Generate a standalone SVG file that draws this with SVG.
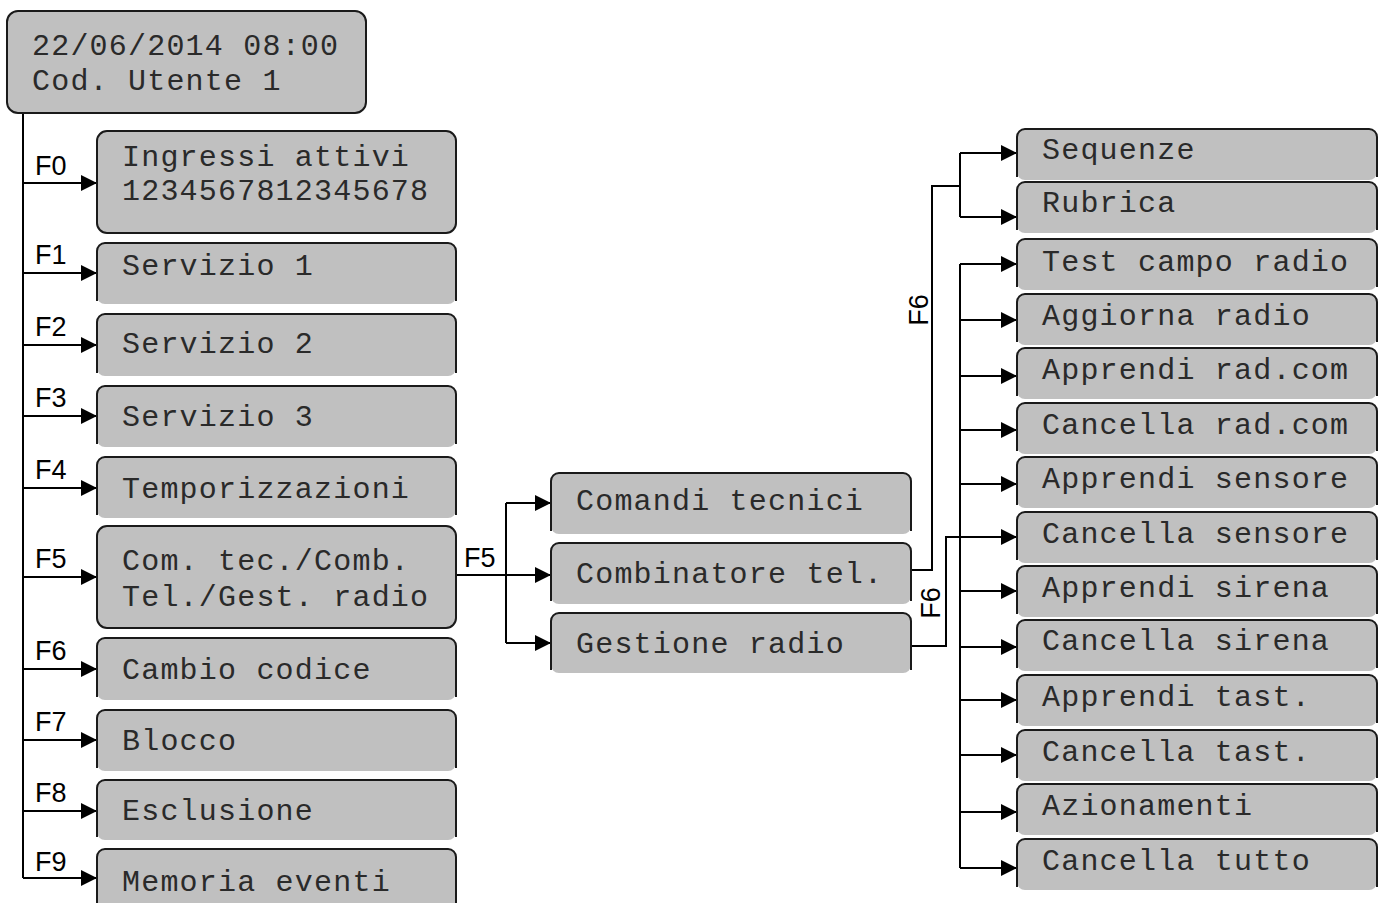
<svg xmlns="http://www.w3.org/2000/svg" width="1382" height="903" viewBox="0 0 1382 903">
<style>
.fill{fill:#c0c0c0;stroke:none}
.bd{fill:none;stroke:#1a1a1a;stroke-width:2}
.full{fill:#c0c0c0;stroke:#1a1a1a;stroke-width:2}
.t{font-family:"Liberation Mono",monospace;font-size:30px;letter-spacing:1.2px;fill:#2a2a2a}
.f{font-family:"Liberation Sans",Arial,sans-serif;font-size:27px;fill:#000}
.ln{fill:none;stroke:#000;stroke-width:2}
.ar{fill:none;stroke:#000;stroke-width:2;marker-end:url(#ah)}
</style>
<defs>
<marker id="ah" markerUnits="userSpaceOnUse" viewBox="0 0 16 16" refX="16" refY="8" markerWidth="16" markerHeight="16" orient="auto">
<path d="M0,0 L16,8 L0,16 z" fill="#000"/>
</marker>
</defs>
<rect width="1382" height="903" fill="#fff"/>

<g id="connectors">
<path class="ln" d="M23,113 V878"/>
<path class="ar" d="M23,183 H97"/>
<path class="ar" d="M23,273 H97"/>
<path class="ar" d="M23,345 H97"/>
<path class="ar" d="M23,416 H97"/>
<path class="ar" d="M23,488 H97"/>
<path class="ar" d="M23,577 H97"/>
<path class="ar" d="M23,669 H97"/>
<path class="ar" d="M23,740 H97"/>
<path class="ar" d="M23,811 H97"/>
<path class="ar" d="M23,878 H97"/>
<path class="ln" d="M456,575 H506 M506,503 V643"/>
<path class="ar" d="M506,503 H551"/>
<path class="ar" d="M506,575 H551"/>
<path class="ar" d="M506,643 H551"/>
<path class="ln" d="M911,570 H932 V186 H960 M960,153 V217"/>
<path class="ar" d="M960,153 H1017"/>
<path class="ar" d="M960,217 H1017"/>
<path class="ar" d="M911,646 H946 V537 H1017"/>
<path class="ln" d="M960,264 V868"/>
<path class="ar" d="M960,264 H1017"/>
<path class="ar" d="M960,320 H1017"/>
<path class="ar" d="M960,376 H1017"/>
<path class="ar" d="M960,430 H1017"/>
<path class="ar" d="M960,484 H1017"/>
<path class="ar" d="M960,591 H1017"/>
<path class="ar" d="M960,647 H1017"/>
<path class="ar" d="M960,700 H1017"/>
<path class="ar" d="M960,755 H1017"/>
<path class="ar" d="M960,812 H1017"/>
<path class="ar" d="M960,868 H1017"/>
<text class="f" x="35" y="175">F0</text>
<text class="f" x="35" y="264">F1</text>
<text class="f" x="35" y="336">F2</text>
<text class="f" x="35" y="407">F3</text>
<text class="f" x="35" y="479">F4</text>
<text class="f" x="35" y="568">F5</text>
<text class="f" x="35" y="660">F6</text>
<text class="f" x="35" y="731">F7</text>
<text class="f" x="35" y="802">F8</text>
<text class="f" x="35" y="871">F9</text>
<text class="f" x="464" y="567">F5</text>
<text class="f" text-anchor="middle" transform="translate(928,310) rotate(-90)">F6</text>
<text class="f" text-anchor="middle" transform="translate(940,603) rotate(-90)">F6</text>
</g>

<g id="n-top"><rect class="full" x="7" y="11" width="359" height="102" rx="11"/>
<text class="t" x="32" y="55">22/06/2014 08:00</text><text class="t" x="32" y="90">Cod. Utente 1</text></g>
<g id="n-ingressi"><rect class="full" x="97" y="131" width="359" height="102" rx="10"/>
<text class="t" x="122" y="166">Ingressi attivi</text><text class="t" x="122" y="200">1234567812345678</text></g>
<g id="n-serv1"><rect class="fill" x="97" y="243" width="359" height="61" rx="8"/><path class="bd" d="M97,301 V251 A8,8 0 0 1 105,243 H448 A8,8 0 0 1 456,251 V301"/>
<text class="t" x="122" y="275">Servizio 1</text></g>
<g id="n-serv2"><rect class="fill" x="97" y="314" width="359" height="62" rx="8"/><path class="bd" d="M97,373 V322 A8,8 0 0 1 105,314 H448 A8,8 0 0 1 456,322 V373"/>
<text class="t" x="122" y="353">Servizio 2</text></g>
<g id="n-serv3"><rect class="fill" x="97" y="386" width="359" height="61" rx="8"/><path class="bd" d="M97,444 V394 A8,8 0 0 1 105,386 H448 A8,8 0 0 1 456,394 V444"/>
<text class="t" x="122" y="426">Servizio 3</text></g>
<g id="n-temp"><rect class="fill" x="97" y="457" width="359" height="61" rx="8"/><path class="bd" d="M97,515 V465 A8,8 0 0 1 105,457 H448 A8,8 0 0 1 456,465 V515"/>
<text class="t" x="122" y="498">Temporizzazioni</text></g>
<g id="n-comtec"><rect class="full" x="97" y="526" width="359" height="102" rx="10"/>
<text class="t" x="122" y="570">Com. tec./Comb.</text><text class="t" x="122" y="606">Tel./Gest. radio</text></g>
<g id="n-cambio"><rect class="fill" x="97" y="638" width="359" height="62" rx="8"/><path class="bd" d="M97,697 V646 A8,8 0 0 1 105,638 H448 A8,8 0 0 1 456,646 V697"/>
<text class="t" x="122" y="679">Cambio codice</text></g>
<g id="n-blocco"><rect class="fill" x="97" y="710" width="359" height="61" rx="8"/><path class="bd" d="M97,768 V718 A8,8 0 0 1 105,710 H448 A8,8 0 0 1 456,718 V768"/>
<text class="t" x="122" y="750">Blocco</text></g>
<g id="n-escl"><rect class="fill" x="97" y="780" width="359" height="60" rx="8"/><path class="bd" d="M97,837 V788 A8,8 0 0 1 105,780 H448 A8,8 0 0 1 456,788 V837"/>
<text class="t" x="122" y="820">Esclusione</text></g>
<g id="n-memoria"><rect class="fill" x="97" y="849" width="359" height="70" rx="8"/><path class="bd" d="M97,910 V857 A8,8 0 0 1 105,849 H448 A8,8 0 0 1 456,857 V910"/>
<text class="t" x="122" y="891">Memoria eventi</text></g>

<g id="n-comandi"><rect class="fill" x="551" y="473" width="360" height="61" rx="8"/><path class="bd" d="M551,531 V481 A8,8 0 0 1 559,473 H903 A8,8 0 0 1 911,481 V531"/>
<text class="t" x="576" y="510">Comandi tecnici</text></g>
<g id="n-combinatore"><rect class="fill" x="551" y="543" width="360" height="61" rx="8"/><path class="bd" d="M551,601 V551 A8,8 0 0 1 559,543 H903 A8,8 0 0 1 911,551 V601"/>
<text class="t" x="576" y="583">Combinatore tel.</text></g>
<g id="n-gestione"><rect class="fill" x="551" y="613" width="360" height="60" rx="8"/><path class="bd" d="M551,670 V621 A8,8 0 0 1 559,613 H903 A8,8 0 0 1 911,621 V670"/>
<text class="t" x="576" y="653">Gestione radio</text></g>

<g id="n-sequenze"><rect class="fill" x="1017" y="129" width="360" height="51" rx="8"/><path class="bd" d="M1017,177 V137 A8,8 0 0 1 1025,129 H1369 A8,8 0 0 1 1377,137 V177"/>
<text class="t" x="1042" y="159">Sequenze</text></g>
<g id="n-rubrica"><rect class="fill" x="1017" y="182" width="360" height="51" rx="8"/><path class="bd" d="M1017,230 V190 A8,8 0 0 1 1025,182 H1369 A8,8 0 0 1 1377,190 V230"/>
<text class="t" x="1042" y="212">Rubrica</text></g>
<g id="n-test"><rect class="fill" x="1017" y="239" width="360" height="51" rx="8"/><path class="bd" d="M1017,287 V247 A8,8 0 0 1 1025,239 H1369 A8,8 0 0 1 1377,247 V287"/>
<text class="t" x="1042" y="271">Test campo radio</text></g>
<g id="n-aggiorna"><rect class="fill" x="1017" y="294" width="360" height="51" rx="8"/><path class="bd" d="M1017,342 V302 A8,8 0 0 1 1025,294 H1369 A8,8 0 0 1 1377,302 V342"/>
<text class="t" x="1042" y="325">Aggiorna radio</text></g>
<g id="n-appradcom"><rect class="fill" x="1017" y="348" width="360" height="51" rx="8"/><path class="bd" d="M1017,396 V356 A8,8 0 0 1 1025,348 H1369 A8,8 0 0 1 1377,356 V396"/>
<text class="t" x="1042" y="379">Apprendi rad.com</text></g>
<g id="n-canradcom"><rect class="fill" x="1017" y="403" width="360" height="51" rx="8"/><path class="bd" d="M1017,451 V411 A8,8 0 0 1 1025,403 H1369 A8,8 0 0 1 1377,411 V451"/>
<text class="t" x="1042" y="434">Cancella rad.com</text></g>
<g id="n-appsens"><rect class="fill" x="1017" y="457" width="360" height="51" rx="8"/><path class="bd" d="M1017,505 V465 A8,8 0 0 1 1025,457 H1369 A8,8 0 0 1 1377,465 V505"/>
<text class="t" x="1042" y="488">Apprendi sensore</text></g>
<g id="n-cansens"><rect class="fill" x="1017" y="512" width="360" height="51" rx="8"/><path class="bd" d="M1017,560 V520 A8,8 0 0 1 1025,512 H1369 A8,8 0 0 1 1377,520 V560"/>
<text class="t" x="1042" y="543">Cancella sensore</text></g>
<g id="n-appsir"><rect class="fill" x="1017" y="566" width="360" height="51" rx="8"/><path class="bd" d="M1017,614 V574 A8,8 0 0 1 1025,566 H1369 A8,8 0 0 1 1377,574 V614"/>
<text class="t" x="1042" y="597">Apprendi sirena</text></g>
<g id="n-cansir"><rect class="fill" x="1017" y="620" width="360" height="51" rx="8"/><path class="bd" d="M1017,668 V628 A8,8 0 0 1 1025,620 H1369 A8,8 0 0 1 1377,628 V668"/>
<text class="t" x="1042" y="650">Cancella sirena</text></g>
<g id="n-apptast"><rect class="fill" x="1017" y="675" width="360" height="51" rx="8"/><path class="bd" d="M1017,723 V683 A8,8 0 0 1 1025,675 H1369 A8,8 0 0 1 1377,683 V723"/>
<text class="t" x="1042" y="706">Apprendi tast.</text></g>
<g id="n-cantast"><rect class="fill" x="1017" y="730" width="360" height="51" rx="8"/><path class="bd" d="M1017,778 V738 A8,8 0 0 1 1025,730 H1369 A8,8 0 0 1 1377,738 V778"/>
<text class="t" x="1042" y="761">Cancella tast.</text></g>
<g id="n-azion"><rect class="fill" x="1017" y="784" width="360" height="51" rx="8"/><path class="bd" d="M1017,832 V792 A8,8 0 0 1 1025,784 H1369 A8,8 0 0 1 1377,792 V832"/>
<text class="t" x="1042" y="815">Azionamenti</text></g>
<g id="n-cantutto"><rect class="fill" x="1017" y="839" width="360" height="51" rx="8"/><path class="bd" d="M1017,887 V847 A8,8 0 0 1 1025,839 H1369 A8,8 0 0 1 1377,847 V887"/>
<text class="t" x="1042" y="870">Cancella tutto</text></g>
</svg>
